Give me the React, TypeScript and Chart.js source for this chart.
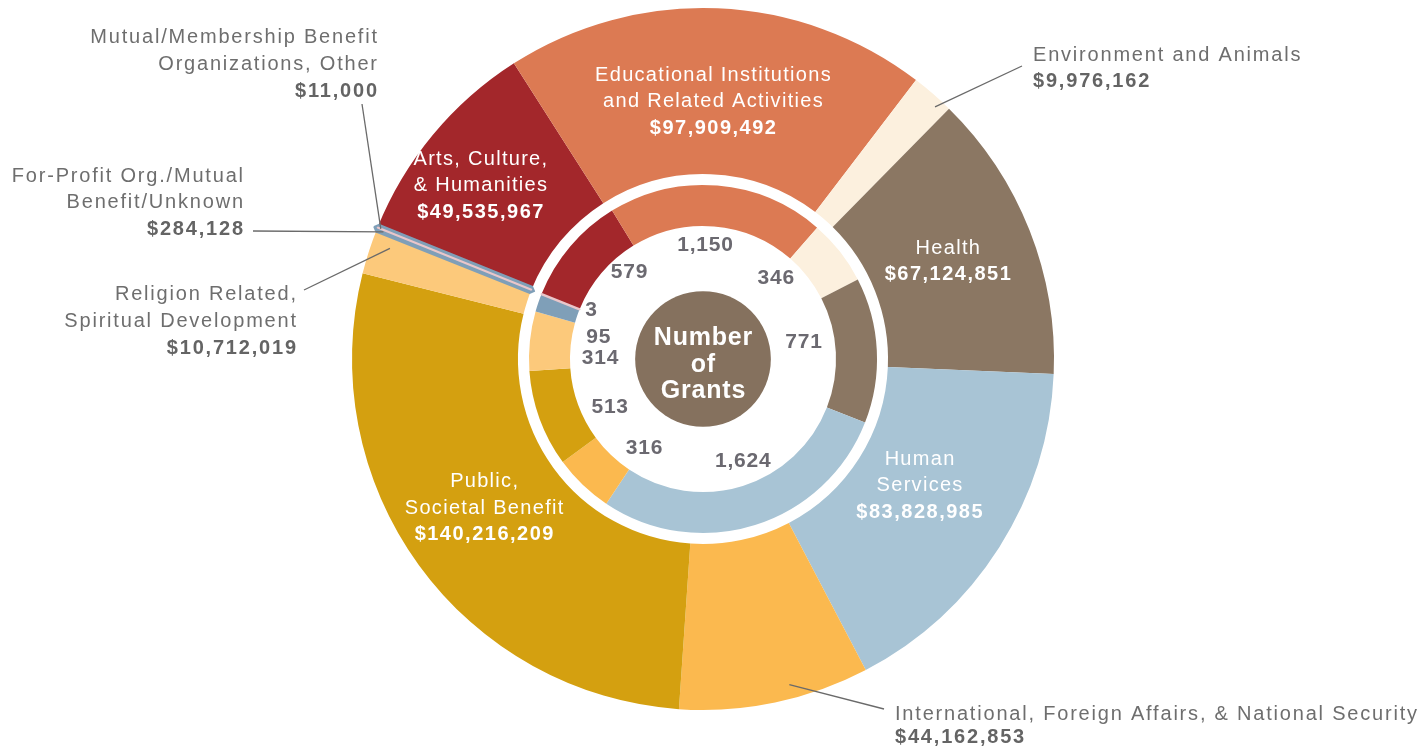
import React, { useEffect, useRef } from "react";
import { Chart, registerables } from "chart.js";

Chart.register(...registerables);

// ---------------- data ----------------
const categories = [
  "Arts, Culture, & Humanities",
  "Educational Institutions and Related Activities",
  "Environment and Animals",
  "Health",
  "Human Services",
  "International, Foreign Affairs, & National Security",
  "Public, Societal Benefit",
  "Religion Related, Spiritual Development",
  "For-Profit Org./Mutual Benefit/Unknown",
  "Mutual/Membership Benefit Organizations, Other",
];

const grantDollars = [
  49535967, 97909492, 9976162, 67124851, 83828985, 44162853, 140216209, 10712019, 284128, 11000,
];

const grantCounts = [579, 1150, 346, 771, 1624, 316, 513, 314, 95, 3];

const sliceColors = [
  "#a3272b",
  "#dc7a53",
  "#fcf0de",
  "#8b7763",
  "#a8c4d5",
  "#fbb94f",
  "#d4a010",
  "#fcc97b",
  "#7f9fb8",
  "#eac6ca",
];

const labelLines = [
  ["Arts, Culture,", "& Humanities"],
  ["Educational Institutions", "and Related Activities"],
  ["Environment and Animals"],
  ["Health"],
  ["Human", "Services"],
  ["International, Foreign Affairs, & National Security"],
  ["Public,", "Societal Benefit"],
  ["Religion Related,", "Spiritual Development"],
  ["For-Profit Org./Mutual", "Benefit/Unknown"],
  ["Mutual/Membership Benefit", "Organizations, Other"],
];

const centerTitle = ["Number", "of", "Grants"];

// ---------------- layout / style ----------------
const W = 1420;
const H = 749;
const ROTATION = -68;
const OUTER_RADIUS = 351;
const CUTOUT = "37.9%";
const WEIGHT_DOLLARS = 166;
const WEIGHT_GAP = 11;
const WEIGHT_COUNTS = 41;
const DISC_RATIO = 0.51;
const DISC_COLOR = "#85715e";
const FONT = "'Liberation Sans', Arial, Helvetica, sans-serif";
const GRAY_TEXT = "#6e6e6e";
const GRAY_BOLD = "#646464";
const COUNT_TEXT = "#6b6970";
const LEADER = "#6a6a6a";

// labels drawn on top of the big (dollar) ring: angular nudge (deg) + radius (px)
const insideLabels = [
  { index: 0, shift: -1.6, r: 283 },
  { index: 1, shift: -0.2, r: 259 },
  { index: 3, shift: -0.5, r: 264 },
  { index: 4, shift: -2.4, r: 250 },
  { index: 6, shift: 2.0, r: 264 },
];

// grant-count numbers, per category: angular nudge (deg) + radius (px)
const countLabelShift = [9.3, -3.7, -9.9, -6.6, -3.8, -10.3, -7.2, -5.3, -7.0, 1.7];
const countLabelRadius = [114, 114, 109, 102, 110, 107, 105, 103, 107, 122];

// labels outside the ring, with a leader line to the slice
const outsideLabels = [
  { index: 9, align: "right", x: 377, baselines: [43, 70, 97], from: [362, 104], shift: 0, rf: 0.99 },
  { index: 8, align: "right", x: 243, baselines: [182, 208, 235], from: [253, 231], shift: -0.2, rf: 0.98 },
  { index: 7, align: "right", x: 296, baselines: [300, 327, 354], from: [304, 290], shift: 1.5, rf: 0.946 },
  { index: 2, align: "left", x: 1033, baselines: [61, 87], from: [1022, 66], shift: 1.7, rf: 0.976 },
  { index: 5, align: "left", x: 895, baselines: [720, 743], from: [884, 709], shift: -3.0, rf: 0.96 },
];

const money = (v: number) => "$" + v.toLocaleString("en-US");

function drawText(
  ctx: CanvasRenderingContext2D,
  text: string,
  x: number,
  y: number,
  font: string,
  color: string,
  align: CanvasTextAlign,
  spacing: number,
  baseline: CanvasTextBaseline = "alphabetic"
) {
  ctx.save();
  ctx.font = font;
  ctx.fillStyle = color;
  ctx.textAlign = align;
  ctx.textBaseline = baseline;
  (ctx as any).letterSpacing = spacing + "px";
  let dx = 0;
  if (align === "center") dx = spacing / 2;
  if (align === "right") dx = spacing;
  ctx.fillText(text, x + dx, y);
  ctx.restore();
}

function arcPoint(arc: any, shiftDeg: number, r: number): [number, number] {
  const a = (arc.startAngle + arc.endAngle) / 2 + (shiftDeg * Math.PI) / 180;
  return [arc.x + r * Math.cos(a), arc.y + r * Math.sin(a)];
}

const labelPlugin = {
  id: "grantLabels",
  afterDatasetsDraw(chart: any) {
    const ctx: CanvasRenderingContext2D = chart.ctx;
    const outer = chart.getDatasetMeta(0).data as any[];
    const inner = chart.getDatasetMeta(2).data as any[];
    const cx = outer[0].x;
    const cy = outer[0].y;

    // center disc
    const discR = inner[0].innerRadius * DISC_RATIO;
    ctx.save();
    ctx.beginPath();
    ctx.arc(cx, cy, discR, 0, Math.PI * 2);
    ctx.fillStyle = DISC_COLOR;
    ctx.fill();
    ctx.restore();
    const titleOffsets = [-14, 13, 39];
    centerTitle.forEach((t, i) =>
      drawText(ctx, t, cx, cy + titleOffsets[i], `bold 25px ${FONT}`, "#ffffff", "center", 0.8)
    );

    // labels inside the dollar ring
    insideLabels.forEach((L) => {
      const [x, y] = arcPoint(outer[L.index], L.shift, L.r);
      const lines = labelLines[L.index];
      const n = lines.length + 1;
      const step = 26.5;
      const b0 = y - ((n - 1) * step) / 2 + 7;
      lines.forEach((t, i) =>
        drawText(ctx, t, x, b0 + i * step, `20px ${FONT}`, "#ffffff", "center", 1.3)
      );
      drawText(ctx, money(grantDollars[L.index]), x, b0 + lines.length * step, `bold 20px ${FONT}`, "#ffffff", "center", 1.5);
    });

    // count numbers in the inner ring area
    inner.forEach((arc, i) => {
      const [x, y] = arcPoint(arc, countLabelShift[i], countLabelRadius[i]);
      drawText(ctx, grantCounts[i].toLocaleString("en-US"), x, y, `bold 21px ${FONT}`, COUNT_TEXT, "center", 0.8, "middle");
    });

    // outside labels + leaders
    outsideLabels.forEach((L) => {
      const arc = outer[L.index];
      const [ex, ey] = arcPoint(arc, L.shift, arc.outerRadius * L.rf);
      ctx.save();
      ctx.strokeStyle = LEADER;
      ctx.lineWidth = 1.3;
      ctx.beginPath();
      ctx.moveTo(L.from[0], L.from[1]);
      ctx.lineTo(ex, ey);
      ctx.stroke();
      ctx.restore();
      const lines = labelLines[L.index];
      lines.forEach((t, i) =>
        drawText(ctx, t, L.x, L.baselines[i], `20px ${FONT}`, GRAY_TEXT, L.align as CanvasTextAlign, 1.8)
      );
      drawText(
        ctx,
        money(grantDollars[L.index]),
        L.x,
        L.baselines[lines.length],
        `bold 20px ${FONT}`,
        GRAY_BOLD,
        L.align as CanvasTextAlign,
        1.8
      );
    });
  },
};

export default function App() {
  const canvasRef = useRef<HTMLCanvasElement | null>(null);

  useEffect(() => {
    if (!canvasRef.current) return;
    const chart = new Chart(canvasRef.current, {
      type: "doughnut",
      data: {
        labels: categories,
        datasets: [
          {
            label: "Grant dollars",
            data: grantDollars,
            backgroundColor: sliceColors,
            borderColor: sliceColors,
            borderWidth: (c: any) => (c.dataIndex === 8 ? 8 : c.dataIndex === 9 ? 2 : 0),
            weight: WEIGHT_DOLLARS,
          } as any,
          {
            label: "spacer",
            data: [1],
            backgroundColor: ["rgba(255,255,255,0)"],
            borderWidth: 0,
            weight: WEIGHT_GAP,
          } as any,
          {
            label: "Number of grants",
            data: grantCounts,
            backgroundColor: sliceColors,
            borderColor: sliceColors,
            borderWidth: (c: any) => (c.dataIndex === 9 ? 2 : 0),
            weight: WEIGHT_COUNTS,
          } as any,
        ],
      },
      options: {
        responsive: false,
        animation: false,
        events: [],
        rotation: ROTATION,
        radius: OUTER_RADIUS,
        cutout: CUTOUT,
        layout: { padding: { left: 352, right: 366, top: 8, bottom: 39 } },
        plugins: {
          legend: { display: false },
          tooltip: { enabled: false },
        },
      } as any,
      plugins: [labelPlugin],
    });
    return () => chart.destroy();
  }, []);

  return (
    <div style={{ position: "absolute", left: 0, top: 0, width: W, height: H, background: "#ffffff" }}>
      <canvas ref={canvasRef} width={W} height={H} style={{ display: "block" }} />
    </div>
  );
}
